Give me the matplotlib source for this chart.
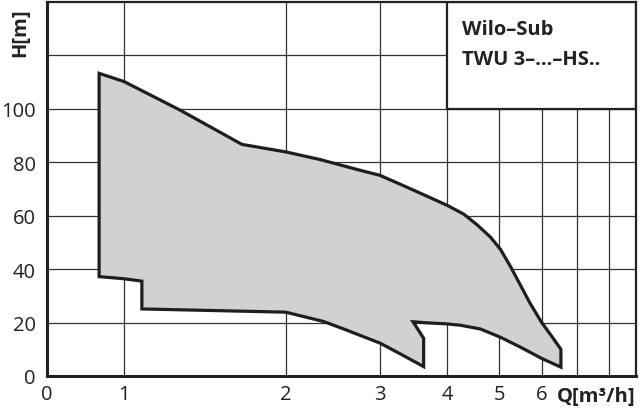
import matplotlib
matplotlib.use("Agg")
import matplotlib.pyplot as plt
from matplotlib.patches import Polygon, Rectangle

plt.rcParams['font.family'] = ['Open Sans', 'DejaVu Sans']

# Operating envelope outline (Q in m3/h, H in m), traced clockwise
q_env = [0.898, 1.00, 1.272, 1.658, 2.00, 2.321, 2.755, 3.00, 3.417, 4.00, 4.296, 4.55, 4.818,
         5.03, 5.25, 5.48, 5.72, 6.00, 6.23, 6.52, 6.52,
         6.00, 5.48, 5.03, 4.615, 4.236, 4.00, 3.67, 3.456, 3.617, 3.617,
         3.32, 3.00, 2.566, 2.354, 2.00, 1.079, 1.079, 1.00, 0.898]
h_env = [113.3, 110.2, 99.5, 86.7, 83.9, 81.0, 77.0, 75.1, 70.1, 63.9, 60.6, 56.6, 52.0,
         47.4, 41.0, 34.0, 27.0, 20.1, 15.6, 10.0, 3.3,
         6.6, 10.8, 14.5, 17.6, 19.0, 19.5, 19.9, 20.3, 14.1, 3.5,
         7.6, 12.3, 17.6, 20.4, 23.9, 25.1, 35.5, 36.4, 37.2]

x_ticks = [0.718, 1, 2, 3, 4, 5, 6, 7, 8]
x_labels = ['0', '1', '2', '3', '4', '5', '6', '', '']
y_ticks = [0, 20, 40, 60, 80, 100, 120]
y_labels = ['0', '20', '40', '60', '80', '100', '']
title_lines = ['Wilo–Sub', 'TWU 3–...–HS..']

fig = plt.figure(figsize=(6.4, 4.1), dpi=100)
ax = fig.add_axes([47/640, 33/410, 589/640, 374/410])
ax.set_xscale('log')
ax.set_xlim(0.718, 9.0)
ax.set_ylim(0, 140)

ax.set_xticks(x_ticks)
ax.set_xticklabels(x_labels)
ax.xaxis.set_minor_locator(matplotlib.ticker.NullLocator())
ax.set_yticks(y_ticks)
ax.set_yticklabels(y_labels)
ax.tick_params(axis='both', length=0, labelsize=14.5, colors='#222222')
ax.tick_params(axis='x', pad=6)
ax.tick_params(axis='y', pad=8)
ax.grid(True, color='#333333', linewidth=0.9, zorder=0)
ax.set_axisbelow(True)

for side in ['left', 'bottom']:
    ax.spines[side].set_linewidth(2.2)
    ax.spines[side].set_color('#222222')
for side in ['top', 'right']:
    ax.spines[side].set_linewidth(1.6)
    ax.spines[side].set_color('#222222')

poly = Polygon(list(zip(q_env, h_env)), closed=True, facecolor='#d0d1d3',
               edgecolor='#1e1e1e', linewidth=2.3, joinstyle='miter', zorder=3)
ax.add_patch(poly)

box = Rectangle((4.0, 100), 5.0, 40, facecolor='white', edgecolor='#222222',
                linewidth=1.6, zorder=2)
ax.add_patch(box)

ax.text(0.7046, 0.914, title_lines[0], transform=ax.transAxes, fontsize=14.5,
        fontweight='bold', color='#222222', va='baseline', ha='left', zorder=5)
ax.text(0.7046, 0.834, title_lines[1], transform=ax.transAxes, fontsize=14.5,
        fontweight='bold', color='#222222', va='baseline', ha='left', zorder=5)

ax.text(-0.046, 0.92, 'H[m]', transform=ax.transAxes, rotation=90, fontsize=14.5,
        fontweight='bold', color='#222222', ha='center', va='center')
ax.text(1.0, -0.053, 'Q[m³/h]', transform=ax.transAxes, fontsize=14.5,
        fontweight='bold', color='#222222', ha='right', va='center')

fig.savefig('out.png', dpi=100)
